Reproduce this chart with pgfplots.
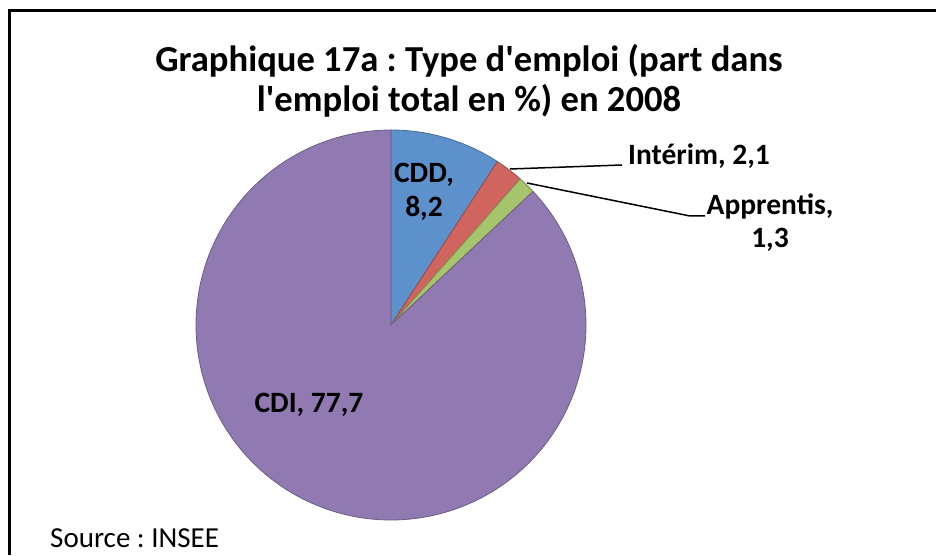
\documentclass[border=0pt]{standalone}
\usepackage{pgfplots}
\pgfplotsset{compat=1.18}
\usepackage{fontspec}
\setmainfont{Carlito}
\frenchspacing
\definecolor{cdd}{RGB}{93,145,203}
\definecolor{interim}{RGB}{208,100,95}
\definecolor{appr}{RGB}{165,196,108}
\definecolor{cdi}{RGB}{145,122,178}
% values (part dans l'emploi total en %)
\def\vCDD{8.2}
\def\vINT{2.1}
\def\vAPP{1.3}
\def\vCDI{77.7}
\pgfmathsetmacro{\tot}{\vCDD+\vINT+\vAPP+\vCDI}
\pgfmathsetmacro{\aA}{90}
\pgfmathsetmacro{\aB}{90-(\vCDD/\tot)*360}
\pgfmathsetmacro{\aC}{\aB-(\vINT/\tot)*360}
\pgfmathsetmacro{\aD}{\aC-(\vAPP/\tot)*360}
\pgfmathsetmacro{\aE}{\aD-(\vCDI/\tot)*360}
\def\cx{391}
\def\cy{230}
\def\R{195}
\begin{document}
\begin{tikzpicture}
\useasboundingbox (0,0) rectangle (936pt,555pt);
\begin{axis}[
  at={(0,0)}, anchor=south west,
  width=936pt, height=555pt, scale only axis,
  xmin=0, xmax=936, ymin=0, ymax=555,
  hide axis, clip=false,
]
\addplot[fill=cdd, draw=cdd!75!black, line width=0.8pt, domain=\aB:\aA, samples=40, line join=round]
  ({\cx+\R*cos(x)},{\cy+\R*sin(x)}) -- (\cx,\cy) -- cycle;
\addplot[fill=interim, draw=interim!75!black, line width=0.8pt, domain=\aC:\aB, samples=15, line join=round]
  ({\cx+\R*cos(x)},{\cy+\R*sin(x)}) -- (\cx,\cy) -- cycle;
\addplot[fill=appr, draw=appr!75!black, line width=0.8pt, domain=\aD:\aC, samples=10, line join=round]
  ({\cx+\R*cos(x)},{\cy+\R*sin(x)}) -- (\cx,\cy) -- cycle;
\addplot[fill=cdi, draw=cdi!75!black, line width=0.8pt, domain=\aE:\aD, samples=200, line join=round]
  ({\cx+\R*cos(x)},{\cy+\R*sin(x)}) -- (\cx,\cy) -- cycle;

% frame
\draw[line width=3pt] (9.5,0) -- (9.5,544.5) -- (936,544.5);

% title
\node[anchor=base, font=\fontsize{36.6}{40}\selectfont\bfseries] at (469,483) {Graphique 17a : Type d\textquotesingle emploi (part dans};
\node[anchor=base, font=\fontsize{36.6}{40}\selectfont\bfseries] at (469,443) {l\textquotesingle emploi total en \%) en 2008};

% labels
\node[anchor=base, font=\fontsize{29.5}{32}\selectfont\bfseries] at (424,372) {CDD,};
\node[anchor=base, font=\fontsize{29.5}{32}\selectfont\bfseries] at (424,338) {8,2};
\node[anchor=base west, inner sep=0pt, font=\fontsize{29.5}{32}\selectfont\bfseries] at (628,390) {Intérim, 2,1};
\node[anchor=base, font=\fontsize{29.5}{32}\selectfont\bfseries] at (770,340) {Apprentis,};
\node[anchor=base, font=\fontsize{29.5}{32}\selectfont\bfseries] at (770,307) {1,3};
\node[anchor=base, font=\fontsize{29.5}{32}\selectfont\bfseries] at (309,143) {CDI, 77,7};
\draw[line width=1.5pt] (510,386) -- (622,390);
\draw[line width=1.5pt] (527,372) -- (690,339) -- (705,339);

% source
\node[anchor=base west, inner sep=0pt, font=\fontsize{29}{32}\selectfont] at (50,8) {Source : INSEE};
\end{axis}
\end{tikzpicture}
\end{document}
